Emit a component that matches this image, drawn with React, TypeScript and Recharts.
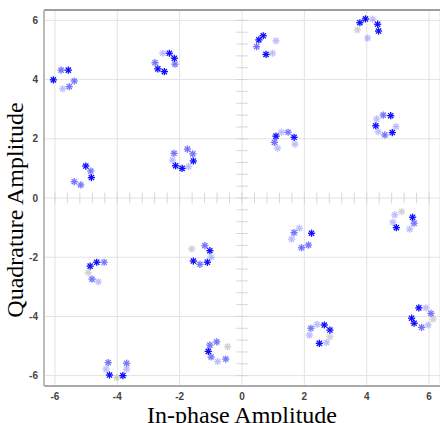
import React from 'react';
import {
  ScatterChart,
  Scatter,
  XAxis,
  YAxis,
  CartesianGrid,
  ReferenceLine,
  Label,
} from 'recharts';

// received symbols, grouped by how strongly they show up in the trace
const strongPoints: [number, number][] = [
  [-6.05, 3.99], [-5.57, 4.32],
  [-2.33, 4.89], [-2.17, 4.72], [-2.7, 4.36], [-2.49, 4.27],
  [-5.01, 1.08], [-4.83, 0.69],
  [-2.13, 1.09], [-1.92, 1.0], [-1.56, 1.25],
  [0.54, 5.34], [0.68, 5.48], [0.77, 4.85],
  [3.78, 5.92], [3.96, 6.05], [4.35, 5.87], [4.38, 5.64],
  [1.09, 2.09], [1.67, 2.05],
  [4.77, 2.78], [4.82, 2.21], [4.29, 2.44],
  [-4.87, -2.3], [-4.66, -2.17],
  [-1.03, -1.78], [-1.11, -2.17], [-1.56, -2.13],
  [-4.25, -5.98], [-3.82, -6.0],
  [-1.08, -5.18],
  [2.23, -1.19],
  [5.47, -0.65], [4.95, -1.0],
  [2.64, -4.29], [2.82, -4.46], [2.48, -4.91],
  [5.44, -4.06], [5.52, -4.23], [5.67, -3.71],
];

const mediumPoints: [number, number][] = [
  [-5.8, 4.32], [-5.54, 3.76], [-5.38, 3.95],
  [-2.15, 4.52], [-2.79, 4.57],
  [-5.38, 0.55], [-5.17, 0.44], [-4.85, 0.91],
  [-2.18, 1.51], [-1.58, 1.49], [-1.75, 1.65],
  [0.47, 5.11],
  [1.04, 1.88], [1.48, 2.22],
  [4.53, 2.8], [4.58, 2.13],
  [-4.42, -2.17], [-4.81, -2.74],
  [-1.19, -1.61], [-1.35, -2.24],
  [-4.29, -5.56], [-3.7, -5.58],
  [-1.03, -4.97], [-0.81, -4.86], [-0.99, -5.37], [-0.52, -5.44],
  [1.67, -1.17], [2.13, -1.59], [1.91, -1.68],
  [5.52, -0.85],
  [2.21, -4.4],
  [6.06, -3.9], [5.76, -4.37],
];

const faintPoints: [number, number][] = [
  [-5.75, 3.69],
  [-2.54, 4.89],
  [-2.23, 1.28], [-1.71, 1.06],
  [1.09, 5.31], [0.98, 4.89],
  [4.19, 6.04], [4.03, 5.4],
  [1.27, 2.22], [1.7, 1.82], [1.14, 1.68],
  [4.32, 2.67], [4.94, 2.41], [4.37, 2.24],
  [-4.61, -2.83],
  [-0.99, -2.0],
  [-4.36, -5.78], [-3.7, -5.78],
  [-0.78, -5.52],
  [1.59, -1.39], [1.84, -1.02],
  [4.9, -0.57], [5.38, -1.05], [4.84, -0.82],
  [2.41, -4.27], [2.71, -4.88], [2.16, -4.63],
  [5.9, -3.71], [5.97, -4.29],
];

const ghostPoints: [number, number][] = [
  [3.7, 5.68],
  [-4.93, -2.52],
  [-1.61, -1.72],
  [-4.02, -6.07],
  [-0.46, -5.02],
  [5.12, -0.46],
  [2.82, -4.69],
  [6.13, -4.09],
];

const axisTicks = [-6, -4, -2, 0, 2, 4, 6];
const LIMIT = 6.35;

// little marks along the centre cross, every 0.4
const minorTicks: number[] = [];
for (let i = -15; i <= 15; i++) minorTicks.push(Math.round(i * 0.4 * 100) / 100);

const toData = (pts: [number, number][]) => pts.map(([x, y]) => ({ x, y }));

const makeStar = (color: string, opacity: number) => (props: any) => {
  const { cx, cy } = props;
  if (cx == null || cy == null) return null;
  const r = 3.6;
  const d = r * 0.72;
  return (
    <g stroke={color} strokeWidth={1.3} opacity={opacity}>
      <line x1={cx - r} y1={cy} x2={cx + r} y2={cy} />
      <line x1={cx} y1={cy - r} x2={cx} y2={cy + r} />
      <line x1={cx - d} y1={cy - d} x2={cx + d} y2={cy + d} />
      <line x1={cx - d} y1={cy + d} x2={cx + d} y2={cy - d} />
    </g>
  );
};

const tickFont = { fontFamily: 'Liberation Sans, Arial, sans-serif', fontSize: 10, fontWeight: 'bold' as const };

const XTick = (props: any) => {
  const { x, y, payload } = props;
  return (
    <text x={x} y={y + 12} textAnchor="middle" fill="#444" {...tickFont}>
      {payload.value}
    </text>
  );
};

const YTick = (props: any) => {
  const { x, y, payload } = props;
  return (
    <text x={x - 4} y={y + 3.5} textAnchor="end" fill="#444" {...tickFont}>
      {payload.value}
    </text>
  );
};

const titleFont = { fontFamily: 'Liberation Serif, Times New Roman, serif', fontSize: 24 };

export default function App() {
  return (
    <div style={{ position: 'absolute', left: 0, top: 0, width: 440, height: 423, background: '#fff' }}>
      <ScatterChart width={440} height={423} margin={{ top: 10, right: 0, bottom: 0, left: 0 }}>
        <CartesianGrid stroke="#e2e2e2" />
        <XAxis
          type="number"
          dataKey="x"
          domain={[-LIMIT, LIMIT]}
          ticks={axisTicks}
          allowDataOverflow
          height={37}
          tickSize={0}
          tickLine={false}
          axisLine={{ stroke: '#aaa', strokeWidth: 2 }}
          tick={<XTick />}
        >
          <Label
            content={(p: any) => {
              const vb = p.viewBox;
              return (
                <text x={vb.x + vb.width / 2} y={vb.y + 37} textAnchor="middle" fill="#000" {...titleFont}>
                  In-phase Amplitude
                </text>
              );
            }}
          />
        </XAxis>
        <YAxis
          type="number"
          dataKey="y"
          domain={[-LIMIT, LIMIT]}
          ticks={axisTicks}
          allowDataOverflow
          width={44}
          tickSize={0}
          tickLine={false}
          axisLine={{ stroke: '#bbb', strokeWidth: 2 }}
          tick={<YTick />}
        >
          <Label
            content={(p: any) => {
              const vb = p.viewBox;
              const cx = 23;
              const cy = vb.y + vb.height / 2 + 12;
              return (
                <text x={cx} y={cy} transform={`rotate(-90, ${cx}, ${cy})`} textAnchor="middle" fill="#000" {...titleFont}>
                  Quadrature Amplitude
                </text>
              );
            }}
          />
        </YAxis>
        <ReferenceLine y={LIMIT} stroke="#808080" strokeWidth={1.5} />
        {minorTicks.map((t) => (
          <ReferenceLine
            key={`vx${t}`}
            segment={[{ x: t, y: -0.18 }, { x: t, y: 0.18 }]}
            stroke="#d6d6d6"
          />
        ))}
        {minorTicks.map((t) => (
          <ReferenceLine
            key={`hy${t}`}
            segment={[{ x: -0.18, y: t }, { x: 0.18, y: t }]}
            stroke="#d6d6d6"
          />
        ))}
        <Scatter data={toData(ghostPoints)} shape={makeStar('#9a9a9a', 0.45)} isAnimationActive={false} />
        <Scatter data={toData(faintPoints)} shape={makeStar('#5a5aff', 0.4)} isAnimationActive={false} />
        <Scatter data={toData(mediumPoints)} shape={makeStar('#2a2aff', 0.65)} isAnimationActive={false} />
        <Scatter data={toData(strongPoints)} shape={makeStar('#0000ff', 0.95)} isAnimationActive={false} />
      </ScatterChart>
    </div>
  );
}
